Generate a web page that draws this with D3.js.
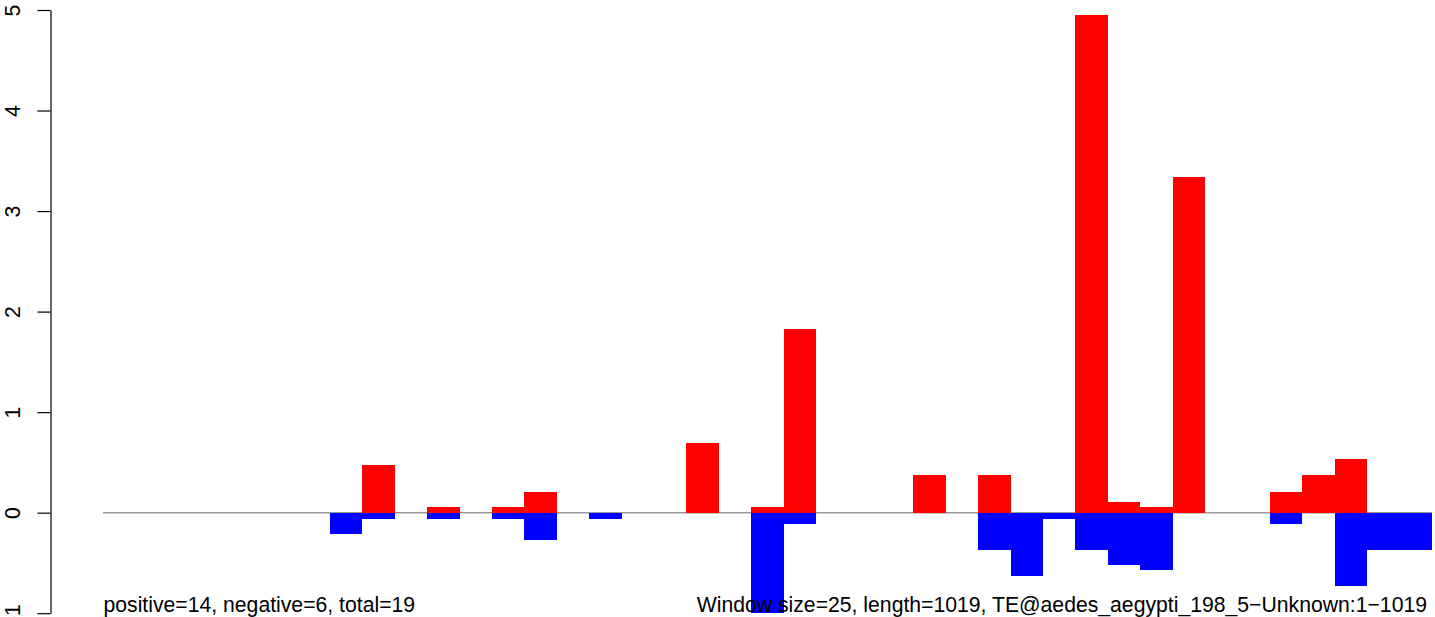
<!DOCTYPE html>
<html>
<head>
<meta charset="utf-8">
<script src="https://cdn.jsdelivr.net/npm/d3@7"></script>
<style>
html, body { margin: 0; padding: 0; background: #fff; }
svg { display: block; }
text { font-family: "Liberation Sans", Arial, Helvetica, sans-serif; fill: #000; }
</style>
</head>
<body>
<svg id="chart" width="1435" height="617"></svg>
<script>
// 41 windows of 25 bp over a 1019 bp sequence
const windows = d3.range(41);
const positiveValues = [0,0,0,0,0,0,0,0,0.475,0,0.056,0,0.056,0.21,0,0,0,0,0.69,0,0.056,1.83,0,0,0,0.37,0,0.37,0,0,4.95,0.11,0.056,3.34,0,0,0.21,0.37,0.53,0,0];
const negativeValues = [0,0,0,0,0,0,0,-0.21,-0.06,0,-0.06,0,-0.06,-0.27,0,-0.06,0,0,0,0,-1.0,-0.11,0,0,0,0,0,-0.37,-0.63,-0.06,-0.37,-0.52,-0.57,0,0,0,-0.11,0,-0.73,-0.37,-0.37];
const yTicks = [-1, 0, 1, 2, 3, 4, 5];
const leftLabel = "positive=14, negative=6, total=19";
const rightLabel = "Window size=25, length=1019, TE@aedes_aegypti_198_5\u2212Unknown:1\u22121019";

const svg = d3.select("#chart");
const x = d3.scaleBand().domain(windows).range([103, 1432]).padding(0);
const y = d3.scaleLinear().domain([-1, 5]).range([613.2, 10]);

// zero line
svg.append("line")
  .attr("x1", x.range()[0]).attr("x2", x.range()[1])
  .attr("y1", y(0)).attr("y2", y(0))
  .attr("stroke", "#999").attr("stroke-width", 1.5);

// positive bars
svg.append("g").attr("shape-rendering", "crispEdges")
  .selectAll("rect").data(windows.filter(i => positiveValues[i] > 0)).join("rect")
  .attr("x", i => x(i)).attr("width", x.bandwidth())
  .attr("y", i => y(positiveValues[i])).attr("height", i => y(0) - y(positiveValues[i]))
  .attr("fill", "#ff0000");

// negative bars
svg.append("g").attr("shape-rendering", "crispEdges")
  .selectAll("rect").data(windows.filter(i => negativeValues[i] < 0)).join("rect")
  .attr("x", i => x(i)).attr("width", x.bandwidth())
  .attr("y", y(0)).attr("height", i => y(negativeValues[i]) - y(0))
  .attr("fill", "#0000ff");

// y axis
const axis = d3.axisLeft(y).tickValues(yTicks).tickSize(13).tickSizeOuter(0)
  .tickFormat(d => d < 0 ? "-" + Math.abs(d) : String(d));
const gAxis = svg.append("g").attr("transform", "translate(50.5,0)").call(axis);
gAxis.select(".domain").attr("stroke", "#000").attr("stroke-width", 1.2);
gAxis.selectAll(".tick line").attr("stroke", "#000").attr("stroke-width", 1.2);
gAxis.selectAll(".tick text")
  .attr("x", null).attr("dy", null)
  .attr("transform", "translate(-31,0) rotate(-90)")
  .attr("text-anchor", "middle")
  .attr("font-size", 21.2)
  .attr("font-family", "Liberation Sans, Arial, sans-serif")
  .attr("fill", "#000");

// bottom annotations
svg.append("text").attr("x", 103.5).attr("y", 612)
  .attr("font-size", 21.2).attr("text-anchor", "start").text(leftLabel);
svg.append("text").attr("x", 1427).attr("y", 612)
  .attr("font-size", 21.2).attr("text-anchor", "end").text(rightLabel);
</script>
</body>
</html>
